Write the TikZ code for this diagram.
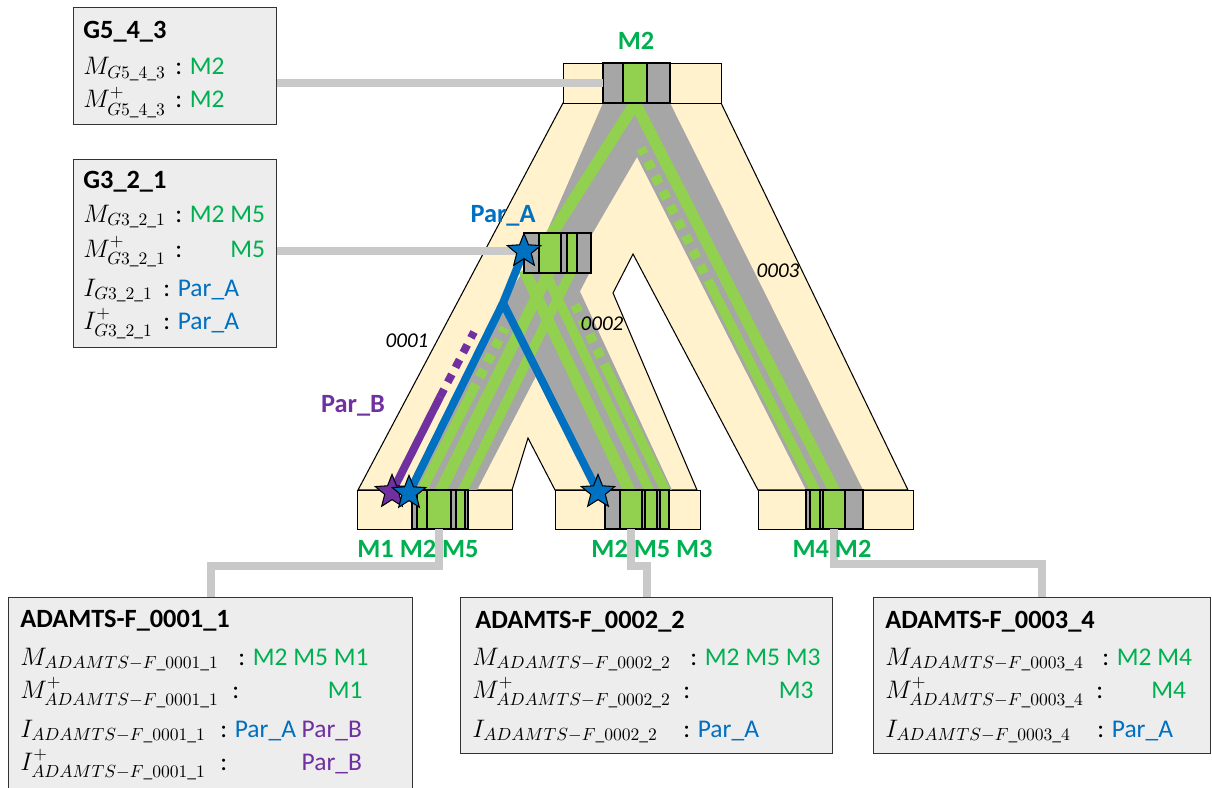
\documentclass[tikz,border=0pt]{standalone}
\usepackage{fontspec}
\setmainfont{Carlito}
\usepackage{amsmath}
\usepackage{tikz}
\usetikzlibrary{shapes.geometric}
\DeclareMathSizes{14.5}{14.5}{10}{7}

\definecolor{treebg}{HTML}{FFF2CC}
\definecolor{bandgray}{HTML}{A6A6A6}
\definecolor{bandgreen}{HTML}{92D050}
\definecolor{mgreen}{HTML}{00B050}
\definecolor{pblue}{HTML}{0070C0}
\definecolor{ppurple}{HTML}{7030A0}
\definecolor{linkgray}{HTML}{C9C9C9}
\definecolor{boxgray}{HTML}{EDEDED}

\begin{document}
\begin{tikzpicture}[x=0.02cm,y=-0.02cm,
    infobox/.style={draw=black!80,line width=0.8pt,fill=boxgray,inner sep=0pt,anchor=north west},
    treebox/.style={draw=black,line width=0.6pt,fill=treebg,inner sep=0pt,anchor=north west,minimum height=0.8cm},
    seg/.style={draw=black,line width=0.6pt},
    link/.style={draw=linkgray,line width=4.5pt},
    gstripe/.style={draw=bandgreen,line width=5.5pt},
    gdash/.style={gstripe,dash pattern=on 5pt off 4.5pt},
    parA/.style={draw=pblue,line width=4.5pt,line join=round},
    parB/.style={draw=ppurple,line width=4.5pt},
    star5/.style={star,star points=5,star point ratio=2.3,minimum size=20pt,inner sep=0pt,draw=black,line width=0.6pt},
    boxtitle/.style={anchor=base west,inner sep=0pt,font=\fontsize{15}{18}\selectfont\bfseries},
    boxrow/.style={anchor=base west,inner sep=0pt,font=\fontsize{14.5}{17}\selectfont},
    mlabel/.style={anchor=base,inner sep=0pt,text=mgreen,font=\fontsize{15}{18}\selectfont\bfseries},
    branch/.style={anchor=base,inner sep=0pt,font=\fontsize{12}{14}\selectfont\itshape}]
    \useasboundingbox (0,0) rectangle (1212,787);

    % info boxes
    \node[infobox,minimum width=4.06cm,minimum height=2.34cm] (g543) at (73,7) {};
    \node[infobox,minimum width=4.06cm,minimum height=3.76cm] (g321) at (73,159) {};
    \node[infobox,minimum width=8.08cm,minimum height=4.06cm] (adamtsA) at (8,597) {};
    \node[infobox,minimum width=7.44cm,minimum height=3.12cm] (adamtsB) at (460,597) {};
    \node[infobox,minimum width=6.74cm,minimum height=3.12cm] (adamtsC) at (873,597) {};

    % tree outline
    \filldraw[fill=treebg,draw=black,line width=0.6pt] (563,103) -- (358,490) -- (512,490)
        -- (528,438) -- (555,490) -- (697,490) -- (613,293) -- (633,254) -- (758,490)
        -- (908,490) -- (721,103) -- cycle;

    % gray bands
    \fill[bandgray] (603,103) -- (670,103) -- (863,490) -- (806,490) -- (637,157)
        -- (591,236) -- (545,236) -- cycle;
    \fill[bandgray] (524,270) -- (591,270) -- (477,490) -- (410,490) -- (503,303) -- cycle;
    \fill[bandgray] (503,303) -- (524,270) -- (570,270) -- (672,490) -- (598,490) -- cycle;

    % markers along the branches
    \draw[gstripe,line width=6.5pt] (632,97) -- (837,496);
    \draw[gstripe] (818,496) -- (712,288);
    \draw[gdash] (712,288) -- (641,148);
    \draw[gstripe,line width=6.5pt] (639,97) -- (548,240);
    \draw[gstripe,line width=6.5pt] (550,270) -- (438,496);
    \draw[gstripe] (572,270) -- (460,496);
    \draw[gstripe] (419,496) -- (472,392);
    \draw[gdash] (472,392) -- (505,328);
    \draw[gstripe,line width=6.5pt] (524,270) -- (632,496);
    \draw[gstripe] (544,270) -- (652,496);
    \draw[gstripe] (668,496) -- (608,372);
    \draw[gdash] (608,372) -- (575,305);

    % parents
    \coordinate (parAint) at (524,251);
    \coordinate (splitA) at (503,303);
    \coordinate (parAl) at (409,493);
    \coordinate (parAm) at (598,492);
    \coordinate (parBl) at (392,492);
    \coordinate (parBs) at (440,397);
    \coordinate (parBe) at (474,332);
    \draw[parA] (parAint) -- (splitA) -- (parAl);
    \draw[parA] (splitA) -- (parAm);
    \draw[parB] (parBl) -- (parBs);
    \draw[parB,dash pattern=on 5pt off 4.5pt] (parBs) -- (parBe);

    % root G5_4_3
    \node[treebox,minimum width=3.16cm] (root) at (563,63) {};
    \filldraw[seg,fill=bandgray] (603,63) rectangle (623,103);
    \filldraw[seg,fill=bandgreen] (623,63) rectangle (647,103);
    \filldraw[seg,fill=bandgray] (647,63) rectangle (670,103);

    % node G3_2_1
    \node[treebox,minimum width=1.34cm] (intnode) at (524,233) {};
    \filldraw[seg,fill=bandgray] (524,233) rectangle (539,273);
    \filldraw[seg,fill=bandgreen] (539,233) rectangle (561,273);
    \filldraw[seg,fill=bandgray] (561,233) rectangle (567,273);
    \filldraw[seg,fill=bandgreen] (567,233) rectangle (577,273);
    \filldraw[seg,fill=bandgray] (577,233) rectangle (591,273);

    % leaves
    \node[treebox,minimum width=3.1cm,minimum height=0.78cm] (leafA) at (357,490) {};
    \filldraw[seg,fill=bandgray] (412,490) rectangle (417,529);
    \filldraw[seg,fill=bandgreen] (417,490) rectangle (427,529);
    \filldraw[seg,fill=bandgreen] (427,490) rectangle (451,529);
    \filldraw[seg,fill=bandgray] (451,490) rectangle (456,529);
    \filldraw[seg,fill=bandgreen] (456,490) rectangle (465,529);
    \filldraw[seg,fill=bandgray] (465,490) rectangle (468,529);

    \node[treebox,minimum width=2.9cm,minimum height=0.78cm] (leafB) at (555,490) {};
    \filldraw[seg,fill=bandgray] (605,490) rectangle (620,529);
    \filldraw[seg,fill=bandgreen] (620,490) rectangle (642,529);
    \filldraw[seg,fill=bandgray] (642,490) rectangle (645,529);
    \filldraw[seg,fill=bandgreen] (645,490) rectangle (657,529);
    \filldraw[seg,fill=bandgray] (657,490) rectangle (660,529);
    \filldraw[seg,fill=bandgreen] (660,490) rectangle (669,529);

    \node[treebox,minimum width=3.1cm,minimum height=0.78cm] (leafC) at (758,490) {};
    \filldraw[seg,fill=bandgray] (806,490) rectangle (810,529);
    \filldraw[seg,fill=bandgreen] (810,490) rectangle (820,529);
    \filldraw[seg,fill=bandgray] (820,490) rectangle (823,529);
    \filldraw[seg,fill=bandgreen] (823,490) rectangle (845,529);
    \filldraw[seg,fill=bandgray] (845,490) rectangle (863,529);

    % connectors
    \coordinate (rootin) at (603,83);
    \draw[link] (rootin -| g543.east) -- (rootin);
    \draw[link] (parAint -| g321.east) -- (parAint);
    \coordinate (leafAout) at (439,529);
    \coordinate (leafBout) at (631,529);
    \coordinate (leafCout) at (834,529);
    \draw[link] (leafAout) -- ++(0,37) -| (adamtsA.north);
    \draw[link] (leafBout) -- ++(0,37) -| (adamtsB.north);
    \draw[link] (leafCout) -- ++(0,35) -| (adamtsC.north);

    % stars
    \node[star5,fill=pblue] (starAint) at (parAint) {};
    \node[star5,fill=ppurple] (starBl) at (parBl) {};
    \node[star5,fill=pblue] (starAl) at (parAl) {};
    \node[star5,fill=pblue] (starAm) at (parAm) {};

    % tree labels
    \node[mlabel] (rootlab) at (636,50) {M2};
    \node[mlabel] (leafAlab) at (418,557) {M1 M2 M5};
    \node[mlabel] (leafBlab) at (652,557) {M2 M5 M3};
    \node[mlabel] (leafClab) at (832,557) {M4 M2};
    \node[mlabel,text=pblue] (parAlab) at (503,222) {Par\_A};
    \node[mlabel,text=ppurple] (parBlab) at (353,412) {Par\_B};
    \node[branch] (br1) at (407,347) {0001};
    \node[branch] (br2) at (602,330) {0002};
    \node[branch] (br3) at (778,277) {0003};

    % G5_4_3
    \node[boxtitle] (g543t) at (83,39) {G5\_4\_3};
    \node[boxrow] (g543m) at (83,75) {$\smash[b]{M_{G5\_4\_3}}$};
    \node[boxrow] (g543mv) at (175,75) {: \textcolor{mgreen}{M2}};
    \node[boxrow] (g543p) at (83,108) {$\smash[t]{M^{+}_{G5\_4\_3}}$};
    \node[boxrow] (g543pv) at (175,108) {: \textcolor{mgreen}{M2}};

    % G3_2_1
    \node[boxtitle] (g321t) at (83,189) {G3\_2\_1};
    \node[boxrow] (g321m) at (83,222) {$\smash[b]{M_{G3\_2\_1}}$};
    \node[boxrow] (g321mv) at (175,222) {: \textcolor{mgreen}{M2 M5}};
    \node[boxrow] (g321p) at (83,257) {$\smash[t]{M^{+}_{G3\_2\_1}}$};
    \node[boxrow] (g321pv) at (175,257) {: \textcolor{mgreen}{\phantom{M2 }M5}};
    \node[boxrow] (g321i) at (83,296) {$\smash[b]{I_{G3\_2\_1}}$};
    \node[boxrow] (g321iv) at (163,296) {: \textcolor{pblue}{Par\_A}};
    \node[boxrow] (g321q) at (83,329) {$\smash[t]{I^{+}_{G3\_2\_1}}$};
    \node[boxrow] (g321qv) at (163,329) {: \textcolor{pblue}{Par\_A}};

    % ADAMTS-F_0001_1
    \node[boxtitle] (adAt) at (20,627) {ADAMTS-F\_0001\_1};
    \node[boxrow] (adAm) at (20,665) {$\smash[b]{M_{ADAMTS-F\_0001\_1}}$};
    \node[boxrow] (adAmv) at (238,665) {: \textcolor{mgreen}{M2 M5 M1}};
    \node[boxrow] (adAp) at (20,698) {$\smash[t]{M^{+}_{ADAMTS-F\_0001\_1}}$};
    \node[boxrow] (adApv) at (232,698) {: \textcolor{mgreen}{\phantom{M2 M5 }M1}};
    \node[boxrow] (adAi) at (20,737) {$\smash[b]{I_{ADAMTS-F\_0001\_1}}$};
    \node[boxrow] (adAiv) at (220,737) {: \textcolor{pblue}{Par\_A} \textcolor{ppurple}{Par\_B}};
    \node[boxrow] (adAq) at (20,770) {$\smash[t]{I^{+}_{ADAMTS-F\_0001\_1}}$};
    \node[boxrow] (adAqv) at (220,770) {: \textcolor{ppurple}{\phantom{Par\_A }Par\_B}};

    % ADAMTS-F_0002_2
    \node[boxtitle] (adBt) at (475,628) {ADAMTS-F\_0002\_2};
    \node[boxrow] (adBm) at (472,665) {$\smash[b]{M_{ADAMTS-F\_0002\_2}}$};
    \node[boxrow] (adBmv) at (690,665) {: \textcolor{mgreen}{M2 M5 M3}};
    \node[boxrow] (adBp) at (472,698) {$\smash[t]{M^{+}_{ADAMTS-F\_0002\_2}}$};
    \node[boxrow] (adBpv) at (683,698) {: \textcolor{mgreen}{\phantom{M2 M5 }M3}};
    \node[boxrow] (adBi) at (472,737) {$I_{ADAMTS-F\_0002\_2}$};
    \node[boxrow] (adBiv) at (683,737) {: \textcolor{pblue}{Par\_A}};

    % ADAMTS-F_0003_4
    \node[boxtitle] (adCt) at (885,628) {ADAMTS-F\_0003\_4};
    \node[boxrow] (adCm) at (885,665) {$\smash[b]{M_{ADAMTS-F\_0003\_4}}$};
    \node[boxrow] (adCmv) at (1102,665) {: \textcolor{mgreen}{M2 M4}};
    \node[boxrow] (adCp) at (885,698) {$\smash[t]{M^{+}_{ADAMTS-F\_0003\_4}}$};
    \node[boxrow] (adCpv) at (1096,698) {: \textcolor{mgreen}{\phantom{M2 }M4}};
    \node[boxrow] (adCi) at (885,737) {$I_{ADAMTS-F\_0003\_4}$};
    \node[boxrow] (adCiv) at (1097,737) {: \textcolor{pblue}{Par\_A}};
\end{tikzpicture}
\end{document}
